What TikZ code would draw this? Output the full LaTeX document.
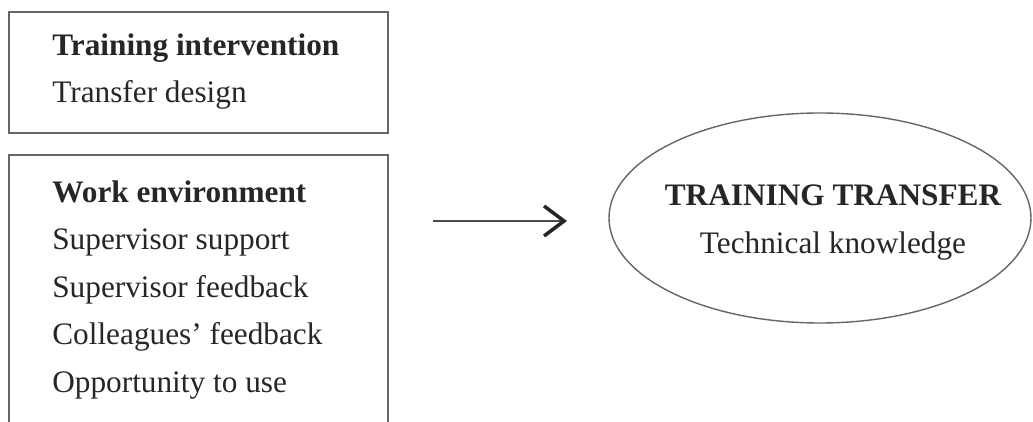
\documentclass[tikz,border=0pt]{standalone}
\usepackage{fontspec}
\setmainfont{Liberation Serif}
\usetikzlibrary{arrows.meta}

\begin{document}
\begin{tikzpicture}[x=1cm,y=1cm,
    txt/.style={anchor=base west, inner sep=0pt, text=black!85, font=\fontsize{17.8}{21}\selectfont},
    hd/.style={txt, font=\fontsize{17.8}{21}\selectfont\bfseries},
    frame/.style={draw=black!60, line width=0.8pt}]
                \useasboundingbox (0,0) rectangle (20.66,8.42);
                \clip (0,0) rectangle (20.66,8.42);
                % left boxes
                \draw[frame] (0.18,5.76) rectangle (7.76,8.18);
                \draw[frame] (0.18,-0.5) rectangle (7.76,5.32);
                \node[hd] (training) at (1.04,7.30) {Training intervention};
                \node[txt] (design) at (1.04,6.38) {Transfer design};
                \node[hd] (work) at (1.04,4.38) {Work environment};
                \node[txt] (support) at (1.04,3.43) {Supervisor support};
                \node[txt] (supfb) at (1.04,2.48) {Supervisor feedback};
                \node[txt] (colfb) at (1.04,1.53) {Colleagues’ feedback};
                \node[txt] (use) at (1.04,0.58) {Opportunity to use};
                % arrow
                \coordinate (tail) at (8.66,4.0);
                \coordinate (head) at (11.34,4.0);
                \draw[black!70, line width=0.8pt, -{Straight Barb[length=0.4cm, width=0.6cm, line width=2pt, black!85]}] (tail) -- (head);
                % outcome
                \draw[frame] (16.4,4.06) ellipse (4.22 and 2.10);
                \node[hd, anchor=base] (outcome) at (16.66,4.32) {TRAINING TRANSFER};
                \node[txt, anchor=base] (knowledge) at (16.66,3.36) {Technical knowledge};
            \end{tikzpicture}
\end{document}
